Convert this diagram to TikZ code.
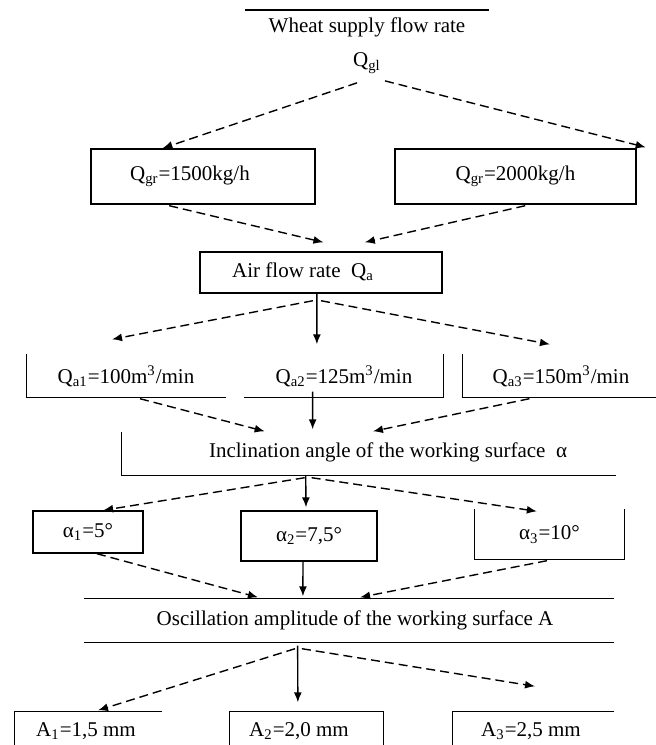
\documentclass[tikz,border=0pt]{standalone}
\usepackage{fontspec}
\setmainfont{Liberation Serif}
\usetikzlibrary{calc,arrows.meta}
\begin{document}
\begin{tikzpicture}[x=0.5pt,y=-0.5pt,line width=0.7pt,
  every node/.style={font=\fontsize{10.5}{12}\selectfont, inner sep=0pt},
  fullbox/.style={draw, rectangle},
  openbox/.style={rectangle},
  darr/.style={-{Latex[length=5pt,width=4pt]}, dash pattern=on 4.5pt off 2.5pt},
  sarr/.style={-{Latex[length=5pt,width=4pt]}}]
\useasboundingbox (0,0) rectangle (656,745);
% top
\coordinate (tl1) at (245,10);
\coordinate (tl2) at (489,10);
\draw (tl1) -- (tl2);
\node (title) at (367,27) {Wheat supply flow rate};
\node (qg) at (367,63) {Q\textsubscript{gl}};
% row 1
\node[fullbox, minimum width=112pt, minimum height=27.5pt] (b1) at (203,176.5) {};
\node (b1t) at (190,176) {Q\textsubscript{gr}=1500kg/h};
\node[fullbox, minimum width=120.5pt, minimum height=27.5pt] (b2) at (515.5,176.5) {Q\textsubscript{gr}=2000kg/h};
% air
\node[fullbox, minimum width=121pt, minimum height=20.5pt] (air) at (321,272.5) {};
\node (airt) at (303,272) {Air flow rate\ \ Q\textsubscript{a}};
% row 3
\node[openbox, minimum width=99pt, minimum height=21pt] (qa1) at (126,376) {Q\textsubscript{a1}=100m\textsuperscript{3}/min};
\draw (qa1.north west) -- (qa1.south west) -- (qa1.south east);
\node[openbox, minimum width=99pt, minimum height=21pt] (qa2) at (344,376) {Q\textsubscript{a2}=125m\textsuperscript{3}/min};
\draw (qa2.south west) -- (qa2.south east) -- (qa2.north east);
\node[openbox, minimum width=98pt, minimum height=21pt] (qa3) at (561,376) {Q\textsubscript{a3}=150m\textsuperscript{3}/min};
\draw (qa3.north west) -- (qa3.south west) -- (qa3.south east);
% inclination
\node[openbox, minimum width=246.5pt, minimum height=21pt] (incl) at (368.5,454) {};
\node (inclt) at (388,452) {Inclination angle of the working surface\ \ α};
\draw (incl.north west) -- (incl.south west) -- (incl.south east);
% row 5
\node[fullbox, minimum width=55pt, minimum height=21pt] (a1) at (88,532) {α\textsubscript{1}=5°};
\node[fullbox, minimum width=68pt, minimum height=25pt] (a2) at (309,536) {α\textsubscript{2}=7,5°};
\node[openbox, minimum width=74.5pt, minimum height=24.5pt] (a3) at (549.5,534.5) {α\textsubscript{3}=10°};
\draw (a3.north west) -- (a3.south west) -- (a3.south east) -- (a3.north east);
% oscillation
\node[openbox, minimum width=264pt, minimum height=21.5pt] (osc) at (349,620.5) {};
\node (osct) at (355,620) {Oscillation amplitude of the working surface A};
\draw (osc.north west) -- (osc.north east);
\draw (osc.south west) -- (osc.south east);
% bottom
\node[openbox, minimum width=73pt, minimum height=25pt] (A1) at (88,737) {};
\node (A1t) at (86,731) {A\textsubscript{1}=1,5 mm};
\draw (A1.north east) -- (A1.north west) -- (A1.south west);
\node[openbox, minimum width=76.5pt, minimum height=25pt] (A2) at (306.5,737) {};
\node (A2t) at (299,731) {A\textsubscript{2}=2,0 mm};
\draw (A2.south west) -- (A2.north west) -- (A2.north east) -- (A2.south east);
\node[openbox, minimum width=80pt, minimum height=25pt] (A3) at (533,737) {};
\node (A3t) at (531,731) {A\textsubscript{3}=2,5 mm};
\draw (A3.north east) -- (A3.north west) -- (A3.south west);
% arrows
\draw[darr] ($(qg.south)+(-10,9)$) -- ($(b1.north west)!0.32!(b1.north east)$);
\draw[darr] ($(qg.south)+(18,7)$) -- ($(b2.north east)+(9,-1)$);
\draw[darr] ($(b1.south west)!0.35!(b1.south east)+(0,1)$) -- ($(air.north west)!0.51!(air.north east)+(0,-9)$);
\draw[darr] ($(b2.south west)!0.54!(b2.south east)+(0,1)$) -- ($(air.north west)!0.68!(air.north east)+(0,-9)$);
\draw[darr] ($(air.south west)!0.467!(air.south east)+(0,7)$) -- ($(qa1.north west)!0.43!(qa1.north east)+(0,-15)$);
\draw[sarr] ($(air.south west)!0.483!(air.south east)$) -- ($(qa2.north west)!0.364!(qa2.north east)+(0,-10)$);
\draw[darr] ($(air.south west)!0.5!(air.south east)+(0,7)$) -- ($(qa3.north west)!0.444!(qa3.north east)+(0,-10)$);
\draw[darr] ($(qa1.south west)!0.57!(qa1.south east)+(0,1)$) -- ($(incl.north west)!0.29!(incl.north east)+(0,-1)$);
\draw[sarr] ($(qa2.south west)!0.343!(qa2.south east)+(0,-6)$) -- ($(incl.north west)!0.387!(incl.north east)+(0,-3)$);
\draw[darr] ($(qa3.south west)!0.34!(qa3.south east)+(0,1)$) -- ($(incl.north west)!0.509!(incl.north east)+(0,-1)$);
\draw[darr] ($(incl.south west)!0.371!(incl.south east)+(0,2)$) -- ($(a1.north west)!0.636!(a1.north east)$);
\draw[sarr] ($(incl.south west)!0.373!(incl.south east)$) -- ($(a2.north west)!0.478!(a2.north east)+(0,-3)$);
\draw[darr] ($(incl.south west)!0.385!(incl.south east)+(0,2)$) -- ($(a3.north west)!0.416!(a3.north east)+(0,2)$);
\draw[darr] ($(a1.south west)!0.58!(a1.south east)$) -- ($(osc.north west)!0.328!(osc.north east)+(0,-1)$);
\draw[sarr] ($(a2.south west)!0.456!(a2.south east)$) -- ($(osc.north west)!0.413!(osc.north east)+(0,-2)$);
\draw[darr] ($(a3.south west)!0.483!(a3.south east)+(0,1)$) -- ($(osc.north west)!0.521!(osc.north east)+(0,-1)$);
\draw[darr] ($(osc.south west)!0.398!(osc.south east)+(0,6)$) -- ($(A1.north west)!0.568!(A1.north east)+(0,-1)$);
\draw[sarr] ($(osc.south west)!0.403!(osc.south east)+(0,3)$) -- ($(A2.north west)!0.444!(A2.north east)+(0,-9)$);
\draw[darr] ($(osc.south west)!0.411!(osc.south east)+(0,6)$) -- ($(A3.north west)!0.5125!(A3.north east)+(0,-25)$);
\end{tikzpicture}
\end{document}
